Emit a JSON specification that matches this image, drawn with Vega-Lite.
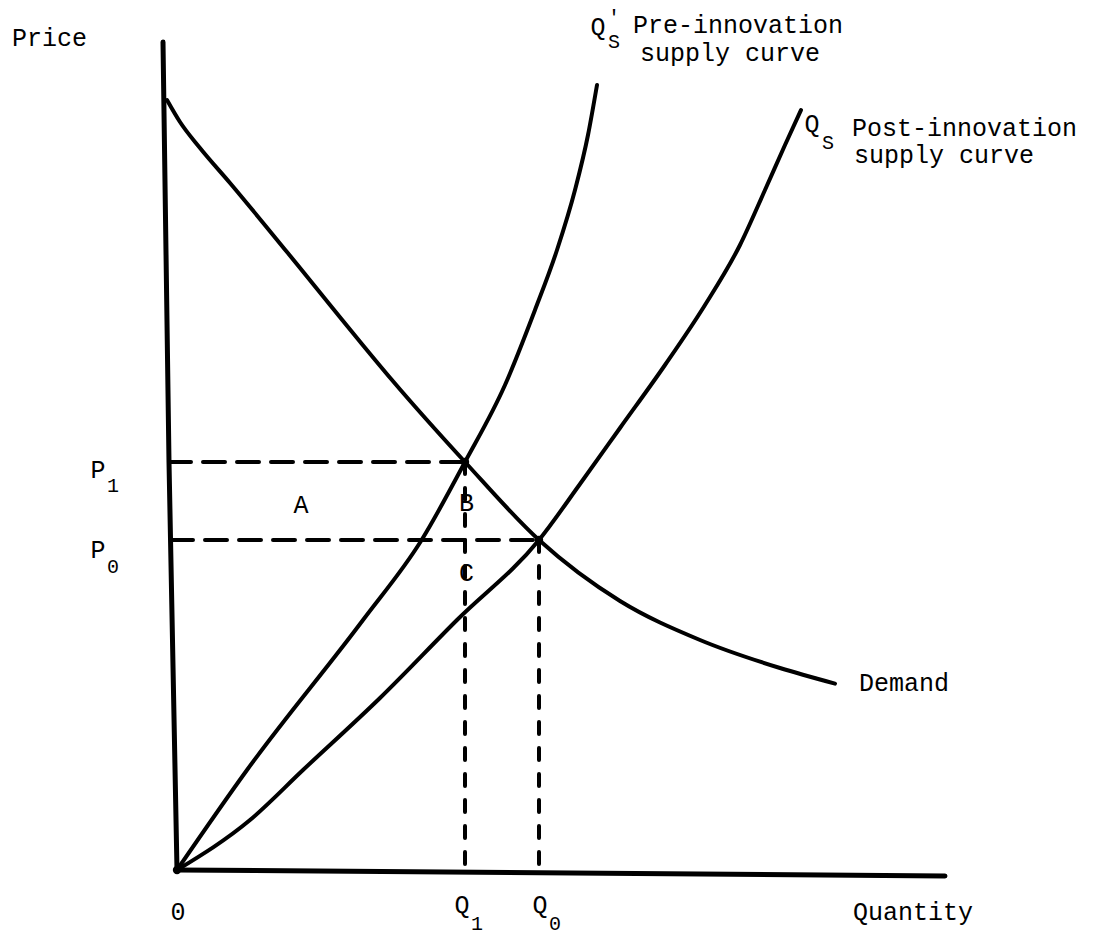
{
  "$schema": "https://vega.github.io/schema/vega-lite/v6.json",
  "width": 1109,
  "height": 940,
  "padding": 0,
  "autosize": "none",
  "background": "white",
  "config": {"view": {"stroke": null}},
  "datasets": {
    "axes": [
      {"line": "price axis", "q": -0.175, "p": 10.35},
      {"line": "price axis", "q": -0.1, "p": 5.1},
      {"line": "price axis", "q": 0, "p": 0},
      {"line": "quantity axis", "q": 0, "p": 0},
      {"line": "quantity axis", "q": 9.6, "p": -0.075}
    ],
    "curves": [
      {"curve": "Demand", "q": -0.125, "p": 9.625},
      {"curve": "Demand", "q": 0.0375, "p": 9.35},
      {"curve": "Demand", "q": 0.2875, "p": 9.025},
      {"curve": "Demand", "q": 0.6625, "p": 8.5875},
      {"curve": "Demand", "q": 1.375, "p": 7.725},
      {"curve": "Demand", "q": 2.25, "p": 6.65},
      {"curve": "Demand", "q": 2.6875, "p": 6.125},
      {"curve": "Demand", "q": 3.6, "p": 5.1},
      {"curve": "Demand", "q": 4.525, "p": 4.125},
      {"curve": "Demand", "q": 5.5375, "p": 3.3625},
      {"curve": "Demand", "q": 6.5375, "p": 2.875},
      {"curve": "Demand", "q": 7.5375, "p": 2.525},
      {"curve": "Demand", "q": 8.225, "p": 2.33},
      {"curve": "Pre-innovation supply", "q": 0, "p": 0},
      {"curve": "Pre-innovation supply", "q": 0.875, "p": 1.25},
      {"curve": "Pre-innovation supply", "q": 2.325, "p": 3.125},
      {"curve": "Pre-innovation supply", "q": 3.05, "p": 4.1125},
      {"curve": "Pre-innovation supply", "q": 3.6, "p": 5.1},
      {"curve": "Pre-innovation supply", "q": 4.1, "p": 6.0625},
      {"curve": "Pre-innovation supply", "q": 4.475, "p": 7.0},
      {"curve": "Pre-innovation supply", "q": 4.75, "p": 7.75},
      {"curve": "Pre-innovation supply", "q": 4.975, "p": 8.5},
      {"curve": "Pre-innovation supply", "q": 5.1375, "p": 9.1875},
      {"curve": "Pre-innovation supply", "q": 5.25, "p": 9.8125},
      {"curve": "Post-innovation supply", "q": 0, "p": 0},
      {"curve": "Post-innovation supply", "q": 0.9125, "p": 0.625},
      {"curve": "Post-innovation supply", "q": 1.575, "p": 1.25},
      {"curve": "Post-innovation supply", "q": 2.5375, "p": 2.15},
      {"curve": "Post-innovation supply", "q": 3.5, "p": 3.125},
      {"curve": "Post-innovation supply", "q": 4.525, "p": 4.125},
      {"curve": "Post-innovation supply", "q": 5.0375, "p": 4.825},
      {"curve": "Post-innovation supply", "q": 5.5375, "p": 5.525},
      {"curve": "Post-innovation supply", "q": 6.1, "p": 6.3125},
      {"curve": "Post-innovation supply", "q": 6.6, "p": 7.0625},
      {"curve": "Post-innovation supply", "q": 7.0375, "p": 7.8125},
      {"curve": "Post-innovation supply", "q": 7.35, "p": 8.5},
      {"curve": "Post-innovation supply", "q": 7.6, "p": 9.0625},
      {"curve": "Post-innovation supply", "q": 7.8, "p": 9.5}
    ],
    "hdash": [
      {"line": "P1", "q": -0.1, "p": 5.1},
      {"line": "P1", "q": 3.6, "p": 5.1},
      {"line": "P0", "q": -0.075, "p": 4.125},
      {"line": "P0", "q": 4.525, "p": 4.125}
    ],
    "vdash": [
      {"line": "Q1", "q": 3.6, "p": 5.1},
      {"line": "Q1", "q": 3.6, "p": 0},
      {"line": "Q0", "q": 4.525, "p": 4.125},
      {"line": "Q0", "q": 4.525, "p": 0}
    ],
    "dots": [
      {"name": "origin", "q": 0, "p": 0},
      {"name": "B", "q": 3.6, "p": 5.1},
      {"name": "E0", "q": 4.525, "p": 4.125}
    ],
    "labels": [
      {"text": "Price", "q": -1.594, "p": 10.394},
      {"text": "P", "q": -0.9875, "p": 5.0},
      {"text": "P", "q": -0.9875, "p": 4.0},
      {"text": "A", "q": 1.55, "p": 4.5625},
      {"text": "B", "q": 3.62, "p": 4.59},
      {"text": "C", "q": 3.62, "p": 3.7125},
      {"text": "0", "q": 0.0125, "p": -0.525},
      {"text": "Q", "q": 3.5625, "p": -0.4375},
      {"text": "Q", "q": 4.5375, "p": -0.4375},
      {"text": "Quantity", "q": 9.2, "p": -0.525},
      {"text": "Demand", "q": 9.0875, "p": 2.3375},
      {"text": "Q", "q": 5.2625, "p": 10.5375},
      {"text": "Q", "q": 7.9375, "p": 9.325}
    ],
    "notes": [
      {"text": "Pre-innovation", "q": 5.7, "p": 10.5625},
      {"text": "supply curve", "q": 5.7875, "p": 10.2125},
      {"text": "Post-innovation", "q": 8.4375, "p": 9.275},
      {"text": "supply curve", "q": 8.4625, "p": 8.9375}
    ],
    "subs": [
      {"text": "1", "q": -0.8, "p": 4.8},
      {"text": "0", "q": -0.8, "p": 3.79},
      {"text": "1", "q": 3.75, "p": -0.675},
      {"text": "0", "q": 4.725, "p": -0.675},
      {"text": "'", "q": 5.4625, "p": 10.65},
      {"text": "S", "q": 5.4625, "p": 10.35},
      {"text": "S", "q": 8.1375, "p": 9.0875}
    ]
  },
  "encoding": {
    "x": {"field": "q", "type": "quantitative", "axis": null,
          "scale": {"domain": [-2.2125, 11.65], "nice": false, "zero": false}},
    "y": {"field": "p", "type": "quantitative", "axis": null,
          "scale": {"domain": [-0.875, 10.875], "nice": false, "zero": false}}
  },
  "layer": [
    {
      "data": {"name": "axes"},
      "mark": {"type": "line", "color": "black", "strokeWidth": 5, "strokeCap": "round", "clip": false},
      "encoding": {"detail": {"field": "line"}, "order": {"value": null}}
    },
    {
      "data": {"name": "curves"},
      "mark": {"type": "line", "color": "black", "strokeWidth": 4, "strokeCap": "round", "interpolate": "monotone"},
      "encoding": {"detail": {"field": "curve"}, "order": {"value": null}}
    },
    {
      "data": {"name": "hdash"},
      "mark": {"type": "line", "color": "black", "strokeWidth": 4, "strokeDash": [22, 12], "strokeCap": "round"},
      "encoding": {"detail": {"field": "line"}, "order": {"value": null}}
    },
    {
      "data": {"name": "vdash"},
      "mark": {"type": "line", "color": "black", "strokeWidth": 4, "strokeDash": [12, 14], "strokeCap": "round"},
      "encoding": {"detail": {"field": "line"}, "order": {"value": null}}
    },
    {
      "data": {"name": "dots"},
      "mark": {"type": "point", "filled": true, "color": "black", "size": 70, "opacity": 1}
    },
    {
      "data": {"name": "labels"},
      "mark": {"type": "text", "font": "Liberation Mono", "fontSize": 25, "color": "black", "align": "center", "baseline": "middle"},
      "encoding": {"text": {"field": "text"}}
    },
    {
      "data": {"name": "notes"},
      "mark": {"type": "text", "font": "Liberation Mono", "fontSize": 25, "color": "black", "align": "left", "baseline": "middle"},
      "encoding": {"text": {"field": "text"}}
    },
    {
      "data": {"name": "subs"},
      "mark": {"type": "text", "font": "Liberation Mono", "fontSize": 20, "color": "black", "align": "center", "baseline": "middle"},
      "encoding": {"text": {"field": "text"}}
    }
  ]
}
